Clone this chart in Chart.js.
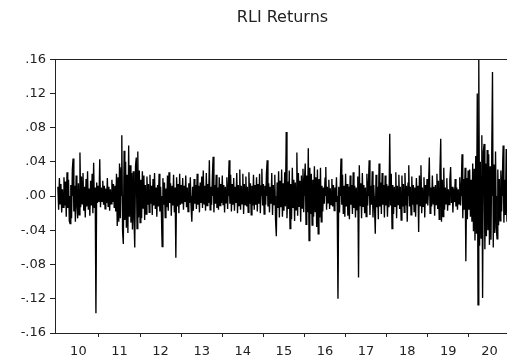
<!DOCTYPE html>
<html>
<head>
<meta charset="utf-8">
<script src="https://cdn.jsdelivr.net/npm/chart.js"></script>
<style>
  html, body { margin: 0; padding: 0; background: #fff; overflow: hidden; }
  canvas { display: block; }
</style>
</head>
<body>
<canvas id="rliChart" width="562" height="364"></canvas>
<script>
// twice-weekly sampling of the daily return series
var startYear = 2010;
var pointsPerYear = 54;

var years = [2010, 2011, 2012, 2013, 2014, 2015, 2016, 2017, 2018, 2019, 2020, 2021];
var yTicks = [-0.16, -0.12, -0.08, -0.04, 0, 0.04, 0.08, 0.12, 0.16];

var returns2010 = [.011,-.016,.021,-.009,.014,-.019,.008,-.013,.022,-.011,.017,-.024,.028,-.014,.019,-.029,-.032,.013,-.026,.031,.044,-.018,.012,-.030,.024,-.010,-.026,
    .015,-.022,.051,-.013,.023,-.009,.027,-.017,.011,-.025,.020,-.012,.029,-.016,.009,-.023,.018,-.011,.026,-.020,.039,-.014,.010,-.137,.016,-.008,.012];
var returns2011 = [-.007,.043,-.013,.010,-.006,.018,-.010,.012,-.015,.009,-.008,.021,-.012,.011,-.017,.008,-.009,.019,-.007,.014,-.013,.012,-.018,.026,-.035,.022,-.030,
    .038,-.026,.033,.071,-.041,-.056,.053,-.028,.040,-.037,.025,-.043,.059,-.024,.036,-.031,.027,-.039,.029,-.027,-.060,.035,.045,-.038,.052,-.025,.030];
var returns2012 = [-.031,.019,-.026,.029,-.014,.024,-.028,.013,-.021,.023,-.010,.014,-.019,.025,-.009,.012,-.022,.020,-.011,.027,-.015,.010,-.024,.013,-.012,.026,-.018,
    .011,-.020,-.059,.021,-.010,.016,-.025,.009,-.013,.024,-.017,.028,-.008,.015,-.023,.012,-.011,.025,-.019,.010,-.072,.022,-.012,.014,-.020,.026,-.010];
var returns2013 = [.013,-.009,.021,-.016,.012,-.007,.024,-.013,.010,-.018,.015,-.008,.022,-.012,-.030,.011,-.017,.020,-.009,.013,-.015,.026,-.010,.012,-.019,.016,-.008,
    .023,-.014,.030,-.009,.012,-.017,.027,-.011,.014,-.008,.042,-.016,.011,-.010,.024,.046,-.019,.013,-.009,.025,-.014,.010,-.016,.022,-.011,.014,-.008];
var returns2014 = [.024,-.010,.013,-.019,.011,-.008,.022,-.015,.012,.042,-.009,.025,-.018,.014,-.010,.021,-.017,.011,-.008,.027,-.020,.013,-.011,.031,-.016,.012,-.009,
    .026,-.021,.014,-.010,.023,-.012,.011,-.019,.028,-.009,.015,-.022,.012,-.011,.025,-.016,.013,-.010,.022,-.018,.014,-.009,.026,-.020,.012,.032,-.011];
var returns2015 = [.014,-.021,.012,-.010,.026,.042,-.012,.015,-.019,.011,-.009,.027,-.022,.013,-.010,.025,-.028,-.047,.016,-.014,.029,-.025,.018,-.013,.031,-.024,.015,
    -.017,.028,-.012,.075,-.026,.017,-.015,.030,-.038,.014,-.027,.033,-.013,.019,-.029,.016,-.016,.051,-.023,.027,-.012,.018,-.030,.024,-.014,.032,-.019];
var returns2016 = [.020,.038,-.033,.024,-.019,.056,-.052,.033,-.021,.026,-.034,.019,-.024,.035,-.018,.022,-.036,.031,-.044,.020,-.025,.033,-.030,.012,-.018,.010,-.009,
    .021,.034,-.016,.011,-.008,.019,-.015,.009,-.010,.020,-.012,.013,-.017,.010,-.007,.022,-.013,-.120,.011,-.019,.013,.044,-.010,.025,-.021,.012,-.024];
var returns2017 = [.026,-.012,.014,-.023,.011,-.027,.024,-.010,.013,-.021,.028,-.014,.012,-.025,.010,-.016,.023,-.095,.036,-.011,.015,-.026,.027,-.012,.013,-.020,.010,
    -.024,.026,-.011,.014,.042,-.022,.012,-.010,.029,-.025,.013,-.011,-.044,.025,-.013,.011,-.027,.038,-.012,.016,-.021,.027,-.010,.013,-.025,.024,-.011];
var returns2018 = [.014,-.024,.012,-.013,.073,-.011,.026,-.038,.013,-.021,.011,-.012,.028,-.026,.012,-.010,.025,-.015,.011,-.028,.024,-.012,.014,-.019,.027,-.011,.012,
    -.030,.015,.036,-.012,.011,-.022,.023,-.010,.013,-.018,.010,-.024,.021,-.009,.012,-.042,.024,-.011,.036,-.020,.010,-.012,.022,-.025,.013,-.009,.020];
var returns2019 = [-.011,.012,.045,-.020,.010,-.012,.024,-.009,.011,-.023,.013,-.010,.026,-.015,.018,-.027,.031,.067,-.030,.019,-.024,.033,-.016,.010,-.009,.021,-.017,
    .008,-.010,.019,.034,-.008,.011,-.019,.009,-.007,.020,-.012,.010,-.016,.008,-.009,.022,-.011,.012,.049,-.026,.020,-.016,.033,-.076,.021,-.027,.030];
var returns2020 = [-.016,.031,-.024,.019,-.030,.038,-.041,.032,-.052,.047,-.044,.120,-.127,.159,-.058,.040,-.049,.071,-.119,.052,.061,-.062,.038,-.047,.054,-.040,.049,
    -.057,.035,-.051,.046,.145,-.060,.037,-.043,.052,-.036,-.050,.031,-.034,.020,-.029,.030,-.018,.022,.059,-.031,.019,-.022,.055,-.030,.021,-.026,.028];

var returns = [].concat(returns2010, returns2011, returns2012, returns2013, returns2014,
    returns2015, returns2016, returns2017, returns2018, returns2019, returns2020);

var points = returns.map(function (v, i) {
    return { x: startYear + i / pointsPerYear, y: v };
});

var frame = {
    id: 'frame',
    afterDraw: function (chart) {
        var a = chart.chartArea;
        var c = chart.ctx;
        c.save();
        c.strokeStyle = '#222';
        c.lineWidth = 1;
        c.strokeRect(Math.round(a.left) + 0.5, Math.round(a.top) + 0.5, Math.round(a.right - a.left), Math.round(a.bottom - a.top));
        c.restore();
    }
};

const ctx = document.getElementById('rliChart').getContext('2d');

var mychart = new Chart(ctx, {
    type: 'line',
    data: {
        datasets: [{
            label: 'RLI Returns',
            data: points,
            borderColor: '#000',
            backgroundColor: '#000',
            fill: 'origin',
            borderWidth: 1.35,
            pointRadius: 0,
            tension: 0
        }]
    },
    plugins: [frame],
    options: {
        responsive: false,
        animation: false,
        layout: { padding: { left: 0, right: 52, top: 0, bottom: 0 } },
        plugins: {
            legend: { display: false },
            tooltip: { enabled: false },
            title: {
                display: true,
                fullSize: false,
                text: 'RLI Returns',
                color: '#222',
                font: { family: 'DejaVu Sans', size: 16, weight: 'normal' },
                padding: { top: 8, bottom: 32 }
            }
        },
        scales: {
            x: {
                type: 'linear',
                min: 2009.93,
                max: 2021.0,
                afterBuildTicks: function (scale) {
                    scale.ticks = years.map(function (y) { return { value: y }; });
                },
                afterFit: function (scale) { scale.height = 31; },
                ticks: {
                    autoSkip: false,
                    maxRotation: 0,
                    labelOffset: 20.5,
                    padding: 7,
                    color: '#222',
                    font: { family: 'DejaVu Sans', size: 13 },
                    callback: function (value) { return String(value % 100); }
                },
                grid: {
                    drawOnChartArea: false,
                    drawTicks: true,
                    tickLength: 4,
                    tickColor: function (c) { return c.tick && c.tick.value === 2010 ? 'rgba(0,0,0,0)' : '#222'; }
                },
                border: { display: true, color: '#222' }
            },
            y: {
                min: -0.16,
                max: 0.16,
                afterBuildTicks: function (scale) {
                    scale.ticks = yTicks.map(function (v) { return { value: v }; });
                },
                afterFit: function (scale) { scale.width = 55; },
                ticks: {
                    padding: 4,
                    color: '#222',
                    font: { family: 'DejaVu Sans', size: 13 },
                    callback: function (value) { return value.toFixed(2).replace('0.', '.'); }
                },
                grid: {
                    drawOnChartArea: false,
                    drawTicks: true,
                    tickLength: 5,
                    tickColor: '#222'
                },
                border: { display: true, color: '#222' }
            }
        }
    }
});
</script>
</body>
</html>
